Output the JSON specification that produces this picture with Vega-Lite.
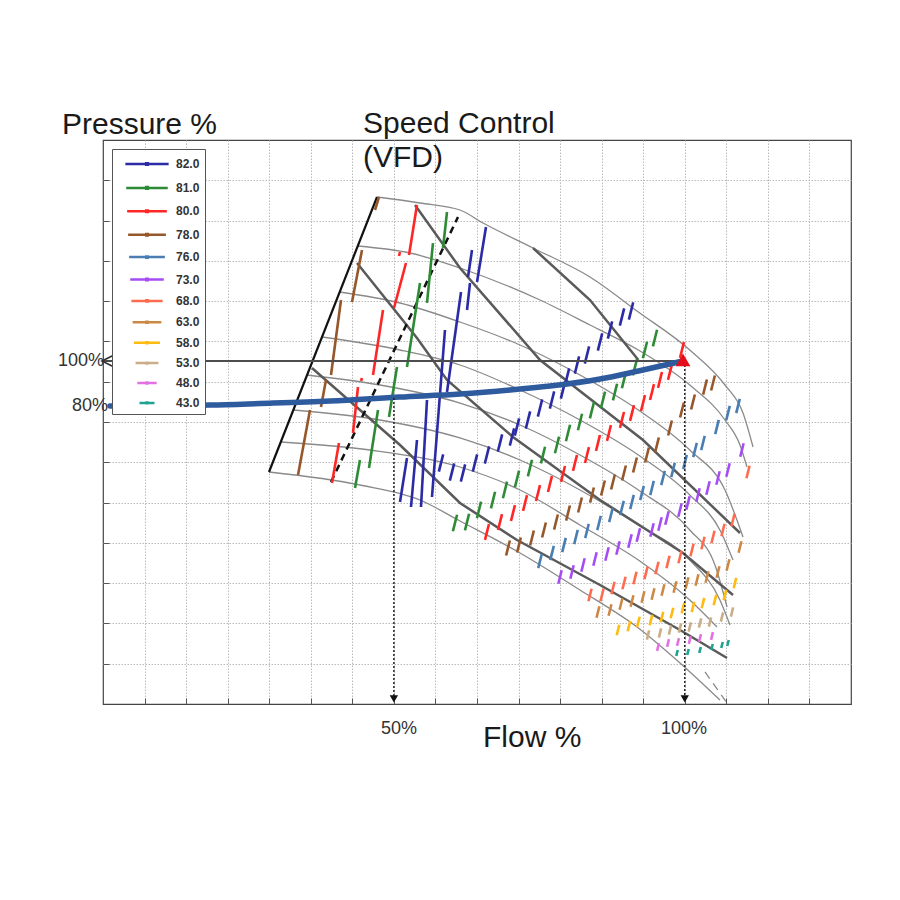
{
  "$schema": "https://vega.github.io/schema/vega-lite/v6.json",
  "width": 748,
  "height": 564,
  "autosize": "none",
  "padding": {"left": 103, "top": 140, "right": 49, "bottom": 196},
  "background": "white",
  "config": {"view": {"stroke": "#444", "strokeWidth": 1.2}, "font": "Liberation Sans"},
  "datasets": {
    "speed": [
      {"id":"s1","x":47.10,"y":172.89},{"id":"s1","x":54.49,"y":170.22},{"id":"s1","x":61.36,"y":167.11},{"id":"s1","x":65.32,"y":161.33},{"id":"s1","x":73.91,"y":150.22},{"id":"s1","x":83.71,"y":137.33},{"id":"s1","x":92.02,"y":121.78},{"id":"s1","x":100.86,"y":104.89},{"id":"s1","x":106.91,"y":89.33},{"id":"s1","x":110.01,"y":76.89},{"id":"s1","x":111.73,"y":61.78},
      {"id":"s2","x":43.80,"y":151.11},{"id":"s2","x":52.77,"y":148.0},{"id":"s2","x":61.36,"y":141.33},{"id":"s2","x":75.12,"y":127.11},{"id":"s2","x":83.71,"y":116.0},{"id":"s2","x":92.02,"y":104.89},{"id":"s2","x":100.86,"y":89.33},{"id":"s2","x":106.91,"y":73.78},{"id":"s2","x":109.49,"y":62.67},{"id":"s2","x":110.69,"y":52.89},
      {"id":"s3","x":40.69,"y":130.67},{"id":"s3","x":51.05,"y":125.78},{"id":"s3","x":61.36,"y":117.33},{"id":"s3","x":71.68,"y":107.11},{"id":"s3","x":81.99,"y":93.78},{"id":"s3","x":92.02,"y":78.22},{"id":"s3","x":100.86,"y":60.44},{"id":"s3","x":106.91,"y":42.67},{"id":"s3","x":110.01,"y":21.78},
      {"id":"s4","x":37.64,"y":110.67},{"id":"s4","x":51.05,"y":104.89},{"id":"s4","x":61.36,"y":98.22},{"id":"s4","x":71.68,"y":87.11},{"id":"s4","x":81.99,"y":73.78},{"id":"s4","x":92.02,"y":58.22},{"id":"s4","x":100.86,"y":40.44},{"id":"s4","x":106.04,"y":24.89},{"id":"s4","x":108.29,"y":11.56},
      {"id":"s5","x":35.06,"y":93.78},{"id":"s5","x":47.61,"y":89.33},{"id":"s5","x":61.36,"y":81.33},{"id":"s5","x":71.68,"y":71.56},{"id":"s5","x":81.99,"y":58.22},{"id":"s5","x":92.02,"y":42.67},{"id":"s5","x":100.86,"y":24.89},{"id":"s5","x":105.19,"y":9.33},{"id":"s5","x":107.26,"y":-9.33},
      {"id":"s6","x":32.73,"y":78.22},{"id":"s6","x":47.61,"y":73.78},{"id":"s6","x":61.36,"y":65.78},{"id":"s6","x":71.68,"y":56.0},{"id":"s6","x":81.99,"y":42.67},{"id":"s6","x":92.02,"y":27.11},{"id":"s6","x":100.86,"y":11.56},{"id":"s6","x":106.04,"y":-6.22},{"id":"s6","x":107.77,"y":-17.33},
      {"id":"s7","x":30.56,"y":64.0},{"id":"s7","x":45.89,"y":60.44},{"id":"s7","x":61.36,"y":52.89},{"id":"s7","x":71.68,"y":42.67},{"id":"s7","x":81.99,"y":27.11},{"id":"s7","x":92.02,"y":11.56},{"id":"s7","x":100.86,"y":-6.22},{"id":"s7","x":105.54,"y":-18.22},
      {"id":"s8","x":28.53,"y":50.67},{"id":"s8","x":44.17,"y":44.89},{"id":"s8","x":54.49,"y":38.22},{"id":"s8","x":61.36,"y":28.89},{"id":"s8","x":71.68,"y":14.67},{"id":"s8","x":81.99,"y":-1.78},{"id":"s8","x":92.02,"y":-18.67},{"id":"s8","x":99.18,"y":-34.22},{"id":"s8","x":106.04,"y":-50.67}
    ],
    "brk": [{"x":103.48,"y":-38.22},{"x":107.26,"y":-52.0}],
    "thick": [
      {"id":"L0","x":73.91,"y":150.22},{"id":"L0","x":83.71,"y":127.11},{"id":"L0","x":92.02,"y":100.44},
      {"id":"L1","x":53.63,"y":169.33},{"id":"L1","x":61.36,"y":141.33},{"id":"L1","x":75.12,"y":100.44},{"id":"L1","x":92.82,"y":64.89},{"id":"L1","x":109.49,"y":23.56},
      {"id":"L2","x":43.66,"y":143.56},{"id":"L2","x":53.97,"y":110.22},{"id":"L2","x":59.13,"y":91.56},{"id":"L2","x":70.47,"y":66.22},{"id":"L2","x":85.43,"y":38.22},{"id":"L2","x":99.69,"y":14.67},{"id":"L2","x":108.29,"y":-4.0},
      {"id":"L3","x":35.92,"y":96.89},{"id":"L3","x":51.05,"y":62.67},{"id":"L3","x":61.36,"y":36.89},{"id":"L3","x":71.16,"y":20.44},{"id":"L3","x":85.43,"y":0.44},{"id":"L3","x":99.18,"y":-19.56},{"id":"L3","x":107.26,"y":-32.0}
    ],
    "surge": [{"x":28.53,"y":50.67},{"x":47.10,"y":172.89}],
    "dashline": [{"x":39.19,"y":46.22},{"x":61.02,"y":164.0}],
    "strokes": [
      {"e":"82.0","x":65.83,"y":159.56,"x2":64.29,"y2":135.11},
      {"e":"82.0","x":63.43,"y":149.33,"x2":62.74,"y2":137.33},
      {"e":"82.0","x":63.08,"y":134.67,"x2":62.57,"y2":122.67},
      {"e":"82.0","x":61.54,"y":130.67,"x2":59.13,"y2":86.22},
      {"e":"82.0","x":58.78,"y":113.78,"x2":56.55,"y2":39.56},
      {"e":"82.0","x":55.69,"y":82.67,"x2":54.66,"y2":35.11},
      {"e":"82.0","x":53.97,"y":64.89,"x2":52.94,"y2":35.11},
      {"e":"82.0","x":52.25,"y":56.89,"x2":51.05,"y2":37.33},
      {"e":"80.0","x":53.97,"y":169.33,"x2":52.60,"y2":147.11},
      {"e":"80.0","x":52.08,"y":143.56,"x2":50.02,"y2":123.56},
      {"e":"80.0","x":48.13,"y":122.67,"x2":46.41,"y2":93.78},
      {"e":"80.0","x":43.83,"y":88.44,"x2":42.97,"y2":68.0},
      {"e":"80.0","x":40.56,"y":63.56,"x2":39.36,"y2":45.78},
      {"e":"80.0","x":51.05,"y":148.44,"x2":50.88,"y2":146.67},
      {"e":"80.0","x":44.52,"y":92.44,"x2":44.35,"y2":91.11},
      {"e":"81.0","x":59.13,"y":166.22,"x2":58.44,"y2":150.22},
      {"e":"81.0","x":56.72,"y":152.44,"x2":55.69,"y2":125.78},
      {"e":"81.0","x":54.49,"y":134.67,"x2":52.25,"y2":97.33},
      {"e":"81.0","x":50.53,"y":97.33,"x2":49.16,"y2":75.11},
      {"e":"81.0","x":47.27,"y":78.22,"x2":45.72,"y2":52.44},
      {"e":"81.0","x":44.17,"y":56.0,"x2":43.32,"y2":43.56},
      {"e":"78.0","x":47.44,"y":172.89,"x2":46.75,"y2":167.11},
      {"e":"78.0","x":44.52,"y":149.33,"x2":42.80,"y2":126.22},
      {"e":"78.0","x":40.91,"y":127.11,"x2":39.19,"y2":93.78},
      {"e":"78.0","x":38.33,"y":91.56,"x2":37.47,"y2":79.56},
      {"e":"78.0","x":35.58,"y":78.22,"x2":33.52,"y2":49.33}
    ],
    "dashes": [
      {"e":"82.0","x":58.10,"y":54.67},{"e":"82.0","x":59.99,"y":50.67},{"e":"82.0","x":61.88,"y":50.22},{"e":"82.0","x":63.94,"y":54.67},{"e":"82.0","x":66.00,"y":58.22},{"e":"82.0","x":68.24,"y":63.56},{"e":"82.0","x":70.30,"y":66.22},{"e":"82.0","x":71.16,"y":70.67},{"e":"82.0","x":73.05,"y":73.78},{"e":"82.0","x":75.12,"y":79.11},{"e":"82.0","x":77.18,"y":82.67},{"e":"82.0","x":79.07,"y":87.11},{"e":"82.0","x":79.76,"y":92.89},{"e":"82.0","x":81.47,"y":98.22},{"e":"82.0","x":83.19,"y":102.67},{"e":"82.0","x":85.43,"y":108.44},{"e":"82.0","x":87.15,"y":113.78},{"e":"82.0","x":89.21,"y":119.56},{"e":"82.0","x":90.76,"y":122.22},
      {"e":"81.0","x":60.50,"y":28.0},{"e":"81.0","x":62.57,"y":28.44},{"e":"81.0","x":64.63,"y":33.78},{"e":"81.0","x":67.04,"y":38.22},{"e":"81.0","x":69.10,"y":42.67},{"e":"81.0","x":71.16,"y":47.56},{"e":"81.0","x":73.39,"y":52.44},{"e":"81.0","x":75.63,"y":58.22},{"e":"81.0","x":78.04,"y":62.67},{"e":"81.0","x":79.93,"y":68.0},{"e":"81.0","x":81.99,"y":72.89},{"e":"81.0","x":84.05,"y":78.22},{"e":"81.0","x":85.94,"y":82.67},{"e":"81.0","x":88.01,"y":86.22},{"e":"81.0","x":89.55,"y":91.56},{"e":"81.0","x":91.44,"y":97.33},{"e":"81.0","x":93.16,"y":104.89},{"e":"81.0","x":94.88,"y":110.22},
      {"e":"80.0","x":66.00,"y":24.0},{"e":"80.0","x":68.24,"y":28.44},{"e":"80.0","x":70.47,"y":32.44},{"e":"80.0","x":72.54,"y":36.89},{"e":"80.0","x":74.77,"y":41.33},{"e":"80.0","x":76.83,"y":45.33},{"e":"80.0","x":79.07,"y":49.78},{"e":"80.0","x":81.13,"y":54.67},{"e":"80.0","x":83.19,"y":58.22},{"e":"80.0","x":85.08,"y":63.56},{"e":"80.0","x":86.97,"y":68.0},{"e":"80.0","x":89.21,"y":73.78},{"e":"80.0","x":90.93,"y":76.89},{"e":"80.0","x":92.82,"y":81.33},{"e":"80.0","x":94.37,"y":86.22},{"e":"80.0","x":95.74,"y":91.56},{"e":"80.0","x":97.46,"y":95.11},{"e":"80.0","x":99.52,"y":104.89},
      {"e":"78.0","x":69.61,"y":16.89},{"e":"78.0","x":71.50,"y":18.22},{"e":"78.0","x":73.74,"y":21.33},{"e":"78.0","x":75.80,"y":24.89},{"e":"78.0","x":77.86,"y":28.44},{"e":"78.0","x":79.93,"y":32.44},{"e":"78.0","x":81.99,"y":36.0},{"e":"78.0","x":84.05,"y":40.44},{"e":"78.0","x":85.94,"y":43.56},{"e":"78.0","x":87.66,"y":46.22},{"e":"78.0","x":89.55,"y":50.22},{"e":"78.0","x":91.44,"y":53.78},{"e":"78.0","x":93.51,"y":58.22},{"e":"78.0","x":95.22,"y":62.67},{"e":"78.0","x":97.46,"y":70.22},{"e":"78.0","x":99.52,"y":78.22},{"e":"78.0","x":101.41,"y":81.78},{"e":"78.0","x":103.48,"y":88.44},{"e":"78.0","x":104.85,"y":90.22},
      {"e":"76.0","x":75.12,"y":11.11},{"e":"76.0","x":77.18,"y":14.67},{"e":"76.0","x":79.24,"y":18.22},{"e":"76.0","x":81.30,"y":21.78},{"e":"76.0","x":83.19,"y":24.44},{"e":"76.0","x":85.26,"y":28.0},{"e":"76.0","x":87.31,"y":31.56},{"e":"76.0","x":89.21,"y":34.67},{"e":"76.0","x":90.93,"y":37.33},{"e":"76.0","x":92.65,"y":41.33},{"e":"76.0","x":94.37,"y":43.56},{"e":"76.0","x":96.26,"y":48.0},{"e":"76.0","x":97.98,"y":51.56},{"e":"76.0","x":100.04,"y":55.11},{"e":"76.0","x":101.76,"y":60.44},{"e":"76.0","x":103.13,"y":63.56},{"e":"76.0","x":105.54,"y":70.67},{"e":"76.0","x":107.43,"y":76.89},{"e":"76.0","x":109.15,"y":80.0},
      {"e":"73.0","x":78.55,"y":4.0},{"e":"73.0","x":80.62,"y":6.22},{"e":"73.0","x":82.51,"y":9.33},{"e":"73.0","x":84.57,"y":12.0},{"e":"73.0","x":86.63,"y":14.22},{"e":"73.0","x":88.52,"y":16.89},{"e":"73.0","x":90.58,"y":20.0},{"e":"73.0","x":92.02,"y":22.67},{"e":"73.0","x":94.37,"y":24.89},{"e":"73.0","x":95.74,"y":27.56},{"e":"73.0","x":96.94,"y":30.22},{"e":"73.0","x":99.18,"y":33.78},{"e":"73.0","x":100.55,"y":36.89},{"e":"73.0","x":102.27,"y":40.44},{"e":"73.0","x":103.99,"y":43.56},{"e":"73.0","x":105.71,"y":48.0},{"e":"73.0","x":107.43,"y":51.56},{"e":"73.0","x":109.83,"y":60.44},
      {"e":"68.0","x":83.71,"y":-4.0},{"e":"68.0","x":85.77,"y":-4.0},{"e":"68.0","x":87.66,"y":-0.89},{"e":"68.0","x":89.55,"y":1.33},{"e":"68.0","x":91.44,"y":3.56},{"e":"68.0","x":93.33,"y":5.78},{"e":"68.0","x":95.22,"y":8.0},{"e":"68.0","x":97.12,"y":10.67},{"e":"68.0","x":99.18,"y":12.89},{"e":"68.0","x":101.24,"y":16.0},{"e":"68.0","x":103.13,"y":19.11},{"e":"68.0","x":104.85,"y":21.78},{"e":"68.0","x":106.57,"y":24.89},{"e":"68.0","x":108.29,"y":29.33},{"e":"68.0","x":110.87,"y":50.67},
      {"e":"63.0","x":85.08,"y":-11.56},{"e":"63.0","x":87.15,"y":-10.67},{"e":"63.0","x":89.04,"y":-8.0},{"e":"63.0","x":90.93,"y":-6.67},{"e":"63.0","x":92.82,"y":-4.89},{"e":"63.0","x":94.54,"y":-3.56},{"e":"63.0","x":96.26,"y":-1.78},{"e":"63.0","x":98.32,"y":-0.44},{"e":"63.0","x":100.38,"y":1.33},{"e":"63.0","x":102.10,"y":2.67},{"e":"63.0","x":103.82,"y":4.0},{"e":"63.0","x":105.71,"y":6.22},{"e":"63.0","x":107.43,"y":9.33},{"e":"63.0","x":109.49,"y":17.33},
      {"e":"58.0","x":88.52,"y":-19.56},{"e":"58.0","x":90.41,"y":-17.78},{"e":"58.0","x":92.02,"y":-16.0},{"e":"58.0","x":94.19,"y":-15.11},{"e":"58.0","x":96.08,"y":-13.78},{"e":"58.0","x":97.80,"y":-12.0},{"e":"58.0","x":99.69,"y":-9.78},{"e":"58.0","x":101.41,"y":-9.33},{"e":"58.0","x":103.13,"y":-7.56},{"e":"58.0","x":105.19,"y":-6.22},{"e":"58.0","x":106.91,"y":-4.0},{"e":"58.0","x":108.63,"y":1.33},
      {"e":"53.0","x":93.68,"y":-21.78},{"e":"53.0","x":95.74,"y":-20.89},{"e":"53.0","x":97.46,"y":-19.56},{"e":"53.0","x":99.18,"y":-18.67},{"e":"53.0","x":100.86,"y":-18.22},{"e":"53.0","x":102.62,"y":-16.44},{"e":"53.0","x":104.33,"y":-16.0},{"e":"53.0","x":106.40,"y":-13.78},{"e":"53.0","x":108.12,"y":-11.56},
      {"e":"48.0","x":95.40,"y":-27.11},{"e":"48.0","x":97.12,"y":-25.33},{"e":"48.0","x":98.83,"y":-24.89},{"e":"48.0","x":100.86,"y":-24.0},{"e":"48.0","x":102.62,"y":-23.11},{"e":"48.0","x":104.68,"y":-22.22},
      {"e":"43.0","x":98.66,"y":-29.78},{"e":"43.0","x":100.55,"y":-29.33},{"e":"43.0","x":102.62,"y":-28.44},{"e":"43.0","x":104.68,"y":-27.11},{"e":"43.0","x":106.40,"y":-26.22},{"e":"43.0","x":107.43,"y":-25.33}
    ],
    "hline": [{"x":0,"x2":99.69,"y":100}],
    "chev": [{"x":1.03,"y":100}],
    "blue": [{"x":1.20,"y":80.0},{"x":18.39,"y":80.44},{"x":26.99,"y":81.11},{"x":39.02,"y":82.22},{"x":51.05,"y":84.0},{"x":61.36,"y":85.33},{"x":69.96,"y":87.11},{"x":76.83,"y":88.89},{"x":85.43,"y":92.0},{"x":92.02,"y":95.56},{"x":99.69,"y":100.0}],
    "varrow": [{"x":50,"y":83.56,"y2":-49.5},{"x":100,"y":100,"y2":-49.5}],
    "ahead": [{"x":50,"y":-50.2},{"x":100,"y":-50.2}],
    "tri": [{"x":99.69,"y":100.5}],
    "notes": [
      {"t":"Pressure %","x":-7.05,"y":204.89,"r":"big"},
      {"t":"Speed Control","x":44.69,"y":205.33,"r":"big"},
      {"t":"(VFD)","x":44.69,"y":190.22,"r":"big"},
      {"t":"Flow %","x":65.32,"y":-67.56,"r":"big"},
      {"t":"50%","x":50.88,"y":-63.56,"r":"tick"},
      {"t":"100%","x":99.87,"y":-63.56,"r":"tick"},
      {"t":"100%","x":0.17,"y":100,"r":"axis"},
      {"t":"80%","x":0.86,"y":80,"r":"axis"}
    ]
  },
  "encoding": {
    "x": {"field": "x", "type": "quantitative",
      "scale": {"domain": [0, 128.5714], "nice": false, "zero": false},
      "axis": {"title": null, "labels": false, "domain": false, "grid": true, "gridColor": "#bbbbbb", "gridDash": [1.5, 1.5], "gridWidth": 1,
        "ticks": true, "tickSize": -6, "tickColor": "#555",
        "values": [7.142857, 14.285714, 21.428571, 28.571429, 35.714286, 42.857143, 50, 57.142857, 64.285714, 71.428571, 78.571429, 85.714286, 92.857143, 100, 107.142857, 114.285714, 121.428571]}},
    "y": {"field": "y", "type": "quantitative",
      "scale": {"domain": [-52.444, 198.222], "nice": false, "zero": false},
      "axis": {"title": null, "labels": false, "domain": false, "grid": true, "gridColor": "#bbbbbb", "gridDash": [1.5, 1.5], "gridWidth": 1,
        "ticks": true, "tickSize": -6, "tickColor": "#555",
        "values": [-34.540, -16.635, 1.270, 19.175, 37.080, 54.984, 72.889, 90.794, 108.699, 126.603, 144.508, 162.413, 180.318]}}
  },
  "layer": [
    {"data": {"name": "speed"}, "mark": {"type": "line", "color": "#8a8a8a", "strokeWidth": 1.3, "interpolate": "monotone"}, "encoding": {"detail": {"field": "id"}}},
    {"data": {"name": "brk"}, "mark": {"type": "line", "color": "#8a8a8a", "strokeWidth": 1.3, "strokeDash": [8, 6]}, "encoding": {}},
    {"data": {"name": "thick"}, "mark": {"type": "line", "color": "#5a5a5a", "strokeWidth": 2.5}, "encoding": {"detail": {"field": "id"}}},
    {"data": {"name": "surge"}, "mark": {"type": "line", "color": "#111", "strokeWidth": 2.2}, "encoding": {}},
    {"data": {"name": "dashline"}, "mark": {"type": "line", "color": "#111", "strokeWidth": 2.5, "strokeDash": [7, 5]}, "encoding": {}},
    {"data": {"name": "strokes"}, "mark": {"type": "rule", "strokeWidth": 2.6},
      "encoding": {"x2": {"field": "x2"}, "y2": {"field": "y2"},
        "color": {"field": "e", "type": "nominal",
          "scale": {"domain": ["82.0","81.0","80.0","78.0","76.0","73.0","68.0","63.0","58.0","53.0","48.0","43.0"],
            "range": ["#2B2BA6","#2E8B35","#FF2626","#96572A","#4A7EB2","#A54CF5","#FF6B4F","#CD8845","#FFBB10","#C9AE88","#E272E2","#1FA392"]},
          "legend": {"orient": "none", "legendX": 9, "legendY": 9, "title": null,
            "symbolType": "M-2.5,0L2.5,0M-0.1,-0.1L0.1,-0.1L0.1,0.1L-0.1,0.1Z", "symbolSize": 400, "symbolStrokeWidth": 2.5,
            "symbolOffset": 20, "labelOffset": 19, "labelFont": "Liberation Sans", "labelFontSize": 12, "labelFontWeight": "bold", "labelColor": "#333",
            "rowPadding": 7.9, "padding": 5, "strokeColor": "#555", "fillColor": "white", "symbolFillColor": "transparent"}}}},
    {"data": {"name": "dashes"}, "mark": {"type": "point", "filled": false, "opacity": 1, "strokeWidth": 2.6, "shape": "M-0.25,1L0.25,-1"},
      "encoding": {
        "color": {"field": "e", "type": "nominal",
          "scale": {"domain": ["82.0","81.0","80.0","78.0","76.0","73.0","68.0","63.0","58.0","53.0","48.0","43.0"],
            "range": ["#2B2BA6","#2E8B35","#FF2626","#96572A","#4A7EB2","#A54CF5","#FF6B4F","#CD8845","#FFBB10","#C9AE88","#E272E2","#1FA392"]},
          "legend": {"orient": "none", "legendX": 9, "legendY": 9, "title": null,
            "symbolType": "M-2.5,0L2.5,0M-0.1,-0.1L0.1,-0.1L0.1,0.1L-0.1,0.1Z", "symbolSize": 400, "symbolStrokeWidth": 2.5,
            "symbolOffset": 20, "labelOffset": 19, "labelFont": "Liberation Sans", "labelFontSize": 12, "labelFontWeight": "bold", "labelColor": "#333",
            "rowPadding": 7.9, "padding": 5, "strokeColor": "#555", "fillColor": "white", "symbolFillColor": "transparent"}},
        "size": {"field": "e", "type": "ordinal",
          "scale": {"type": "point", "domain": ["82.0","81.0","80.0","78.0","76.0","73.0","68.0","63.0","58.0","53.0","48.0","43.0"], "range": [300, 36], "padding": 0},
          "legend": null}}},
    {"data": {"name": "hline"}, "mark": {"type": "rule", "color": "#4d4d4d", "strokeWidth": 2}, "encoding": {"x2": {"field": "x2"}}},
    {"data": {"name": "chev"}, "mark": {"type": "point", "shape": "M1,-1L-1,0L1,1", "filled": false, "size": 196, "color": "#333", "strokeWidth": 1.6, "opacity": 1}, "encoding": {}},
    {"data": {"name": "blue"}, "mark": {"type": "line", "color": "#2E5A9E", "strokeWidth": 5.5, "interpolate": "monotone", "strokeCap": "round"}, "encoding": {}},
    {"data": {"name": "varrow"}, "mark": {"type": "rule", "color": "#222", "strokeWidth": 1.5, "strokeDash": [2, 2]}, "encoding": {"y2": {"field": "y2"}}},
    {"data": {"name": "ahead"}, "mark": {"type": "point", "shape": "triangle-down", "filled": true, "color": "#111", "size": 70, "opacity": 1}, "encoding": {}},
    {"data": {"name": "tri"}, "mark": {"type": "point", "shape": "triangle-up", "filled": true, "color": "#E3101B", "size": 220, "opacity": 1}, "encoding": {}},
    {"data": {"name": "notes"}, "transform": [{"filter": "datum.r == 'big'"}],
      "mark": {"type": "text", "align": "left", "baseline": "middle", "fontSize": 30, "color": "#1a1a1a", "font": "Liberation Sans"},
      "encoding": {"text": {"field": "t"}}},
    {"data": {"name": "notes"}, "transform": [{"filter": "datum.r == 'tick'"}],
      "mark": {"type": "text", "align": "center", "baseline": "middle", "fontSize": 18, "color": "#333", "font": "Liberation Sans"},
      "encoding": {"text": {"field": "t"}}},
    {"data": {"name": "notes"}, "transform": [{"filter": "datum.r == 'axis'"}],
      "mark": {"type": "text", "align": "right", "baseline": "middle", "fontSize": 18, "color": "#333", "font": "Liberation Sans"},
      "encoding": {"text": {"field": "t"}}}
  ]
}
